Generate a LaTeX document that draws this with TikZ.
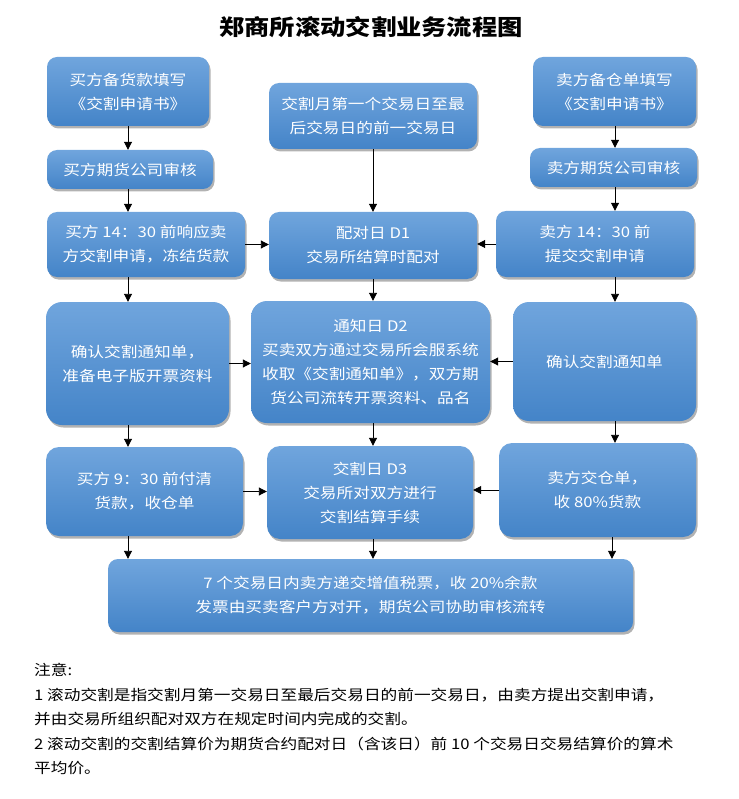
\documentclass[tikz,border=0pt]{standalone}
\usepackage{fontspec}
\setmainfont{Noto Sans CJK SC}[FakeStretch=1.15]
\usepackage{tikz}
\usetikzlibrary{arrows.meta,shadows}

\definecolor{boxtop}{HTML}{70A5DD}
\definecolor{boxmid}{HTML}{5699DB}
\definecolor{boxbot}{HTML}{4484C8}

\tikzset{
    flowbox/.style={rectangle, rounded corners=10pt, inner sep=0pt, align=center,
        top color=boxtop, middle color=boxmid, bottom color=boxbot, text=white,
        font=\fontsize{14.5}{24}\selectfont,
        drop shadow={shadow xshift=1.5pt, shadow yshift=-2.5pt, opacity=.3, fill=black}},
    arr/.style={-{Triangle[length=8pt,width=8pt]}, line width=0.9pt},
}

\begin{document}
\begin{tikzpicture}[x=1pt,y=-1pt]
    \useasboundingbox (0,0) rectangle (738,799);
    \node [font=\fontsize{22}{26}\selectfont\bfseries] (title) at (371,27) {郑商所滚动交割业务流程图};
    % arrow columns
    \coordinate (colL) at (128,0);
    \coordinate (colC) at (373,0);
    \coordinate (colR) at (615,0);
    % buyer side
    \node [flowbox, minimum width=162pt, minimum height=69pt] (b1) at (128,91.5) {买方备货款填写\\《交割申请书》};
    \node [flowbox, minimum width=166pt, minimum height=39pt] (b2) at (130,169.5) {买方期货公司审核};
    \node [flowbox, minimum width=198pt, minimum height=65pt] (b3) at (146,244.5) {买方 14：30 前响应卖\\方交割申请，冻结货款};
    \node [flowbox, rounded corners=16pt, minimum width=183pt, minimum height=123pt] (b4) at (137.5,363.5) {确认交割通知单，\\准备电子版开票资料};
    \node [flowbox, rounded corners=13pt, minimum width=197pt, minimum height=89pt] (b5) at (144.5,491.5) {买方 9：30 前付清\\货款，收仓单};
    % exchange
    \node [flowbox, minimum width=208pt, minimum height=66pt] (c1) at (373,116) {交割月第一个交易日至最\\后交易日的前一交易日};
    \node [flowbox, minimum width=208pt, minimum height=67pt] (c2) at (373,245.5) {配对日 D1\\交易所结算时配对};
    \node [flowbox, rounded corners=16pt, minimum width=239pt, minimum height=122pt] (c4) at (370.5,362) {通知日 D2\\买卖双方通过交易所会服系统\\收取《交割通知单》，双方期\\货公司流转开票资料、品名};
    \node [flowbox, rounded corners=13pt, minimum width=206pt, minimum height=93pt] (c5) at (370,492.5) {交割日 D3\\交易所对双方进行\\交割结算手续};
    % seller side
    \node [flowbox, minimum width=163pt, minimum height=69pt] (s1) at (614.5,91.5) {卖方备仓单填写\\《交割申请书》};
    \node [flowbox, minimum width=167pt, minimum height=39pt] (s2) at (613.5,167.5) {卖方期货公司审核};
    \node [flowbox, minimum width=198pt, minimum height=66pt] (s3) at (595,244) {卖方 14：30 前\\提交交割申请};
    \node [flowbox, rounded corners=16pt, minimum width=183pt, minimum height=119pt] (s4) at (604.5,361.5) {确认交割通知单};
    \node [flowbox, rounded corners=13pt, minimum width=197pt, minimum height=94pt] (s5) at (597.5,490) {卖方交仓单，\\收 80\%货款};
    % last step
    \node [flowbox, minimum width=525pt, minimum height=73pt] (fin) at (370.5,595.5) {7 个交易日内卖方递交增值税票，收 20\%余款\\发票由买卖客户方对开，期货公司协助审核流转};
    % vertical arrows
    \draw [arr] (b1.south -| colL) -- (b2.north -| colL);
    \draw [arr] (b2.south -| colL) -- (b3.north -| colL);
    \draw [arr] (b3.south -| colL) -- (b4.north -| colL);
    \draw [arr] (b4.south -| colL) -- (b5.north -| colL);
    \draw [arr] (b5.south -| colL) -- (fin.north -| colL);
    \draw [arr] (c1.south -| colC) -- (c2.north -| colC);
    \draw [arr] (c2.south -| colC) -- (c4.north -| colC);
    \draw [arr] (c4.south -| colC) -- (c5.north -| colC);
    \draw [arr] (c5.south -| colC) -- (fin.north -| colC);
    \draw [arr] (s1.south -| colR) -- (s2.north -| colR);
    \draw [arr] (s2.south -| colR) -- (s3.north -| colR);
    \draw [arr] (s3.south -| colR) -- (s4.north -| colR);
    \draw [arr] (s4.south -| colR) -- (s5.north -| colR);
    \draw [arr] ([xshift=-3pt]s5.south -| colR) -- ([xshift=-3pt]fin.north -| colR);
    % horizontal arrows
    \draw [arr] (b3.east) -- (c2.west |- b3.east);
    \draw [arr] (s3.west) -- (c2.east |- s3.west);
    \draw [arr] (b4.east) -- (c4.west |- b4.east);
    \draw [arr] (s4.west) -- (c4.east |- s4.west);
    \draw [arr] (b5.east) -- (c5.west |- b5.east);
    \draw [arr] (s5.west) -- (c5.east |- s5.west);
    % notes
    \foreach \t [count=\i] in {{注意:},
        {1 滚动交割是指交割月第一交易日至最后交易日的前一交易日，由卖方提出交割申请，},
        {并由交易所组织配对双方在规定时间内完成的交割。},
        {2 滚动交割的交割结算价为期货合约配对日（含该日）前 10 个交易日交易结算价的算术},
        {平均价。}}
        \node [anchor=base west, inner sep=0pt, font=\fontsize{14.5}{18}\selectfont] (note\i) at (34,{675.5+24.5*(\i-1)}) {\t};
\end{tikzpicture}
\end{document}
